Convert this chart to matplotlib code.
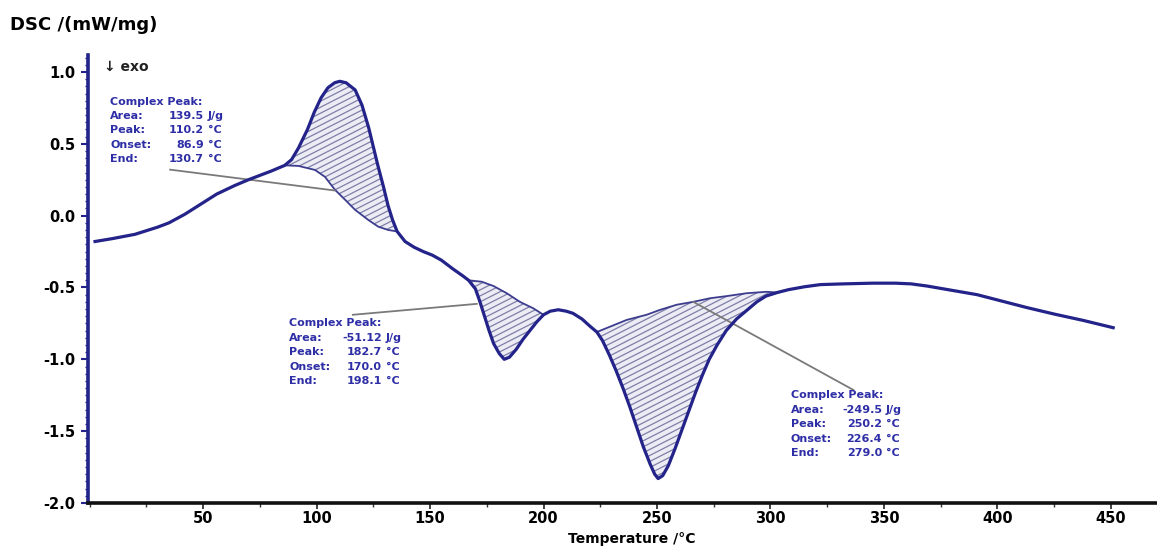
import numpy as np
import matplotlib.pyplot as plt
from matplotlib.patches import Polygon
from matplotlib.collections import LineCollection
from matplotlib.ticker import MultipleLocator

plt.rcParams['font.family'] = ['DejaVu Sans']
plt.rcParams['font.weight'] = 'bold'

# DSC trace, temperature in °C and heat flow in mW/mg
temp = [2.4, 10, 20, 30, 35, 42, 49, 56, 64, 70, 75, 80, 86, 89, 92, 96, 99,
        102, 105, 108, 110.2, 113, 117, 120, 123, 125, 127, 129.5, 131.5,
        133.5, 135.5, 139, 143, 147, 151, 155, 160, 164.5, 167, 170, 172, 174,
        176, 178, 180.5, 182.7, 185, 188, 191, 194, 197, 200, 203, 206.5, 210,
        213, 217, 220.5, 223.5, 226, 229, 232, 235, 238, 241, 244, 247, 249,
        250.5, 252.5, 255, 258, 261, 264, 267, 270, 273, 276.5, 280.5, 285,
        289.5, 294, 298, 303, 308, 315, 322, 332, 345, 355, 362, 369, 380, 391,
        402, 413, 425, 438, 451]
dsc = [-0.18, -0.16, -0.13, -0.08, -0.05, 0.01, 0.08, 0.15, 0.21, 0.25, 0.28,
       0.31, 0.35, 0.39, 0.47, 0.60, 0.72, 0.82, 0.89, 0.925, 0.935, 0.925,
       0.875, 0.77, 0.61, 0.48, 0.35, 0.20, 0.07, -0.03, -0.11, -0.18, -0.22,
       -0.25, -0.275, -0.31, -0.37, -0.42, -0.45, -0.51, -0.60, -0.70, -0.80,
       -0.89, -0.96, -1.0, -0.985, -0.93, -0.86, -0.80, -0.74, -0.69, -0.665,
       -0.655, -0.665, -0.68, -0.72, -0.77, -0.81, -0.87, -0.97, -1.08, -1.20,
       -1.33, -1.47, -1.61, -1.73, -1.80, -1.83, -1.81, -1.74, -1.62, -1.49,
       -1.36, -1.23, -1.11, -1.00, -0.90, -0.80, -0.72, -0.66, -0.60, -0.56,
       -0.535, -0.515, -0.495, -0.48, -0.475, -0.47, -0.47, -0.475, -0.49,
       -0.52, -0.55, -0.595, -0.64, -0.685, -0.73, -0.78]

# integration baselines of the three complex peaks
base1_t = [86.0, 92, 99.3, 103.7, 108.1, 112.6, 117, 122.8, 127.2, 131.6, 135.5]
base1_y = [0.35, 0.346, 0.318, 0.27, 0.18, 0.11, 0.04, -0.03, -0.077, -0.10, -0.11]
base2_t = [167, 172.8, 178, 183.8, 189.6, 195.5, 200]
base2_y = [-0.45, -0.46, -0.49, -0.54, -0.60, -0.645, -0.69]
base3_t = [223.5, 236.6, 245.4, 251.3, 258.7, 266, 273.3, 280.7, 289.5, 298.3, 303]
base3_y = [-0.81, -0.726, -0.69, -0.656, -0.62, -0.60, -0.575, -0.56, -0.54, -0.53, -0.535]

# result boxes
box_labels = ['Area:', 'Peak:', 'Onset:', 'End:']
box1_num = ['139.5', '110.2', '86.9', '130.7']
box2_num = ['-51.12', '182.7', '170.0', '198.1']
box3_num = ['-249.5', '250.2', '226.4', '279.0']
box_units = ['J/g', '°C', '°C', '°C']

navy = '#23238a'
text_blue = '#2e2ea6'

fig = plt.figure(figsize=(11.57, 5.46), dpi=100)
ax = fig.add_axes([88 / 1157, 1 - 503 / 546, 1 - 88 / 1157, (503 - 55) / 546])
ax.set_xlim(-0.7, 470.3)
ax.set_ylim(-2.0, 1.118)

W_px, H_px = 1069, 448
angle = np.deg2rad(27)
slope = np.tan(angle) * W_px / H_px
step = 6.0 / H_px


def hatch_peak(bt, by):
    t = np.array(temp)
    y = np.array(dsc)
    sel = (t > bt[0]) & (t < bt[-1])
    xs = [bt[0]] + list(t[sel]) + [bt[-1]] + list(bt[::-1])
    ys = [by[0]] + list(y[sel]) + [by[-1]] + list(by[::-1])
    poly = Polygon(np.column_stack([xs, ys]), closed=True,
                   facecolor='#ececf5', edgecolor='none', zorder=1)
    ax.add_patch(poly)
    segs = [[(0, c), (1, c + slope)] for c in np.arange(-slope, 1, step)]
    lc = LineCollection(segs, colors='#7e7ea8', linewidths=0.9,
                        transform=ax.transAxes, zorder=2)
    lc.set_clip_path(poly)
    ax.add_collection(lc)
    ax.plot(bt, by, color='#3d3d8f', lw=1.3, zorder=3)


hatch_peak(base1_t, base1_y)
hatch_peak(base2_t, base2_y)
hatch_peak(base3_t, base3_y)

ax.plot(temp, dsc, color=navy, lw=2.3, zorder=5, solid_joinstyle='round')

# leader lines from the result boxes to the baselines
lead = '#7a7a7a'
ax.plot([35.5, 108], [0.32, 0.175], color=lead, lw=1.3, zorder=4)
ax.plot([116, 170.6], [-0.69, -0.614], color=lead, lw=1.3, zorder=4)
ax.plot([336.5, 266], [-1.213, -0.60], color=lead, lw=1.3, zorder=4)


def result_box(x_lab, x_num, x_unit, y0, nums):
    dy = 14.4 / 143.7
    tkw = dict(color=text_blue, fontsize=8, fontweight='bold', va='center',
               zorder=6)
    ax.text(x_lab, y0, 'Complex Peak:', ha='left', **tkw)
    for i in range(4):
        yy = y0 - (i + 1) * dy
        ax.text(x_lab, yy, box_labels[i], ha='left', **tkw)
        ax.text(x_num, yy, nums[i], ha='right', **tkw)
        ax.text(x_unit, yy, box_units[i], ha='left', **tkw)


def px_t(x):
    return (x - 89.5) / 2.27


def px_y(y):
    return (215.7 - y) / 143.7


result_box(px_t(110), px_t(204), px_t(208), px_y(101.7), box1_num)
result_box(px_t(289), px_t(382), px_t(386), px_y(323.5), box2_num)
result_box(px_t(791), px_t(882), px_t(886), px_y(395.5), box3_num)

ax.text(px_t(104), px_y(67), '↓ exo', fontsize=10, fontweight='bold',
        color='#222222', va='center', ha='left')

# axes styling
for s in ['top', 'right']:
    ax.spines[s].set_visible(False)
ax.spines['left'].set_color(navy)
ax.spines['left'].set_linewidth(2.6)
ax.spines['bottom'].set_color('#111111')
ax.spines['bottom'].set_linewidth(2.6)

ax.xaxis.set_minor_locator(MultipleLocator(25))
ax.yaxis.set_major_locator(MultipleLocator(0.5))
ax.yaxis.set_minor_locator(MultipleLocator(0.05))
ax.set_xticks([50, 100, 150, 200, 250, 300, 350, 400, 450])
ax.tick_params(axis='y', which='major', length=5, width=1.5, color=navy,
               labelsize=10.5, pad=4)
ax.tick_params(axis='y', which='minor', length=2.5, width=1.0, color=navy)
ax.tick_params(axis='x', which='major', length=4, width=1.3, color='#333333',
               labelsize=10.5, pad=2)
ax.tick_params(axis='x', which='minor', length=3, width=1.0, color='#333333')
ax.yaxis.set_major_formatter(plt.FuncFormatter(lambda v, p: f'{v:.1f}'))

fig.text(10 / 1157, 1 - 25 / 546, 'DSC /(mW/mg)', fontsize=13,
         fontweight='bold', va='center', ha='left')
fig.text(632 / 1157, 1 - 539 / 546, 'Temperature /°C', fontsize=10,
         fontweight='bold', va='center', ha='center')

fig.savefig('out.png', dpi=100)
